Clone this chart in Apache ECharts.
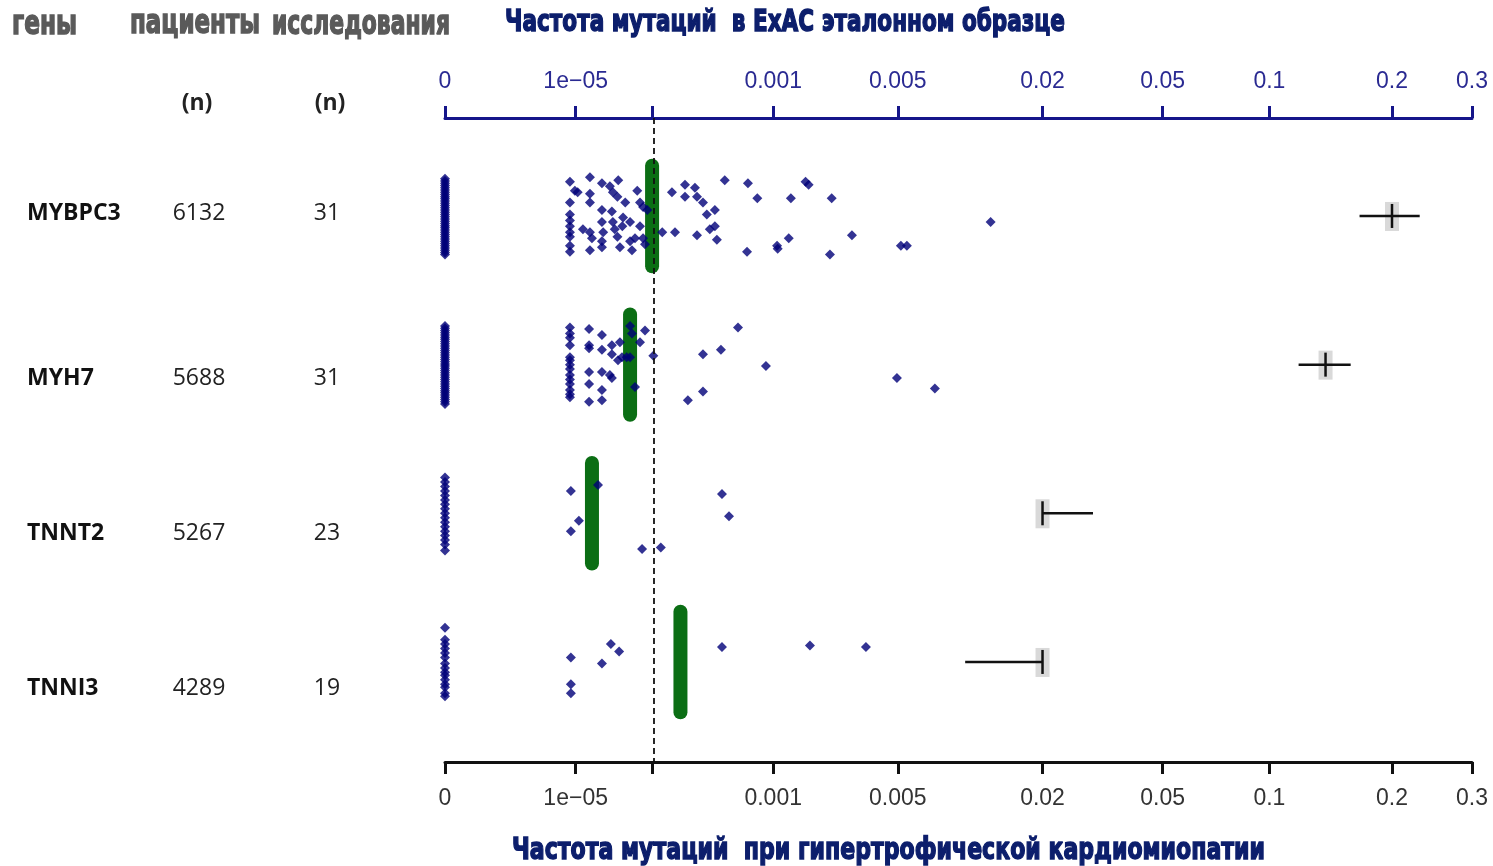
<!DOCTYPE html>
<html><head><meta charset="utf-8">
<script src="https://cdn.jsdelivr.net/npm/echarts@6/dist/echarts.min.js"></script>
<style>html,body{margin:0;padding:0;background:#fff}#c{width:1493px;height:866px}</style>
</head><body><div id="c"></div>
<script>
// ---------- data ----------
const genes = ['MYBPC3', 'MYH7', 'TNNT2', 'TNNI3'];
const patients = [6132, 5688, 5267, 4289];
const studies = [31, 31, 23, 19];
const tickValues = [0, 1e-5, 1e-4, 0.001, 0.005, 0.02, 0.05, 0.1, 0.2, 0.3];
const tickLabels = ['0', '1e\u221205', '', '0.001', '0.005', '0.02', '0.05', '0.1', '0.2', '0.3'];
const thresholdFreq = 1e-4;

// ExAC variant frequencies: [frequency, vertical jitter within row]
const exacMYBPC3 = [
  [0,-0.25],[0,-0.235],[0,-0.22],[0,-0.205],[0,-0.19],[0,-0.175],[0,-0.16],[0,-0.145],[0,-0.13],[0,-0.115],[0,-0.10],[0,-0.085],
  [0,-0.07],[0,-0.055],[0,-0.04],[0,-0.025],[0,-0.01],[0,0.005],[0,0.02],[0,0.035],[0,0.05],[0,0.065],[0,0.08],[0,0.095],
  [0,0.11],[0,0.125],[0,0.14],[0,0.155],[0,0.17],[0,0.185],[0,0.20],[0,0.215],[0,0.23],[0,0.245],[0,0.26],
  [8.0e-6,-0.23],[8.0e-6,-0.09],[8.0e-6,-0.01],[8.0e-6,0.03],[8.0e-6,0.07],[8.0e-6,0.11],[8.0e-6,0.14],[8.0e-6,0.20],[8.0e-6,0.24],
  [9.7e-6,-0.17],[1.08e-5,-0.16],
  [1.68e-5,-0.26],[1.68e-5,-0.15],[1.68e-5,-0.09],[1.31e-5,0.09],[1.68e-5,0.11],[1.80e-5,0.15],[1.68e-5,0.23],
  [2.5e-5,-0.22],[2.5e-5,-0.04],[2.5e-5,0.04],[2.6e-5,0.11],[2.5e-5,0.17],[2.5e-5,0.21],
  [3.2e-5,-0.20],[3.4e-5,-0.03],[3.5e-5,-0.16],[3.5e-5,0.04],[3.7e-5,0.09],[4.0e-5,0.14],[4.3e-5,0.21],
  [4.1e-5,-0.24],[4.0e-5,-0.13],[5.0e-5,-0.09],[4.6e-5,0.07],[4.7e-5,0.01],[5.7e-5,0.04],[5.7e-5,0.17],[6.0e-5,0.23],[6.5e-5,0.15],
  [6.9e-5,-0.17],[7.4e-5,-0.09],[8.0e-5,-0.06],[7.4e-5,0.07],[8.0e-5,0.15],[8.4e-5,0.19],[8.9e-5,-0.04],
  [1.27e-4,0.11],[1.58e-4,-0.16],[1.69e-4,0.11],[2.09e-4,-0.21],[2.09e-4,-0.13],[2.56e-4,-0.19],[2.67e-4,-0.13],[2.67e-4,0.13],
  [3.0e-4,-0.09],[3.23e-4,-0.01],[3.76e-4,-0.04],[3.42e-4,0.09],[3.76e-4,0.07],[3.9e-4,0.16],[4.5e-4,-0.24],
  [6.7e-4,-0.22],[7.8e-4,-0.12],[6.6e-4,0.24],[1.06e-3,0.20],[1.07e-3,0.22],[1.26e-3,0.15],[1.30e-3,-0.12],
  [1.6e-3,-0.23],[1.67e-3,-0.21],[2.27e-3,-0.12],[2.22e-3,0.26],[2.93e-3,0.13],[5.17e-3,0.20],[5.52e-3,0.20],[1.27e-2,0.04]
];
const exacMYH7 = [
  [0,-0.26],[0,-0.245],[0,-0.23],[0,-0.215],[0,-0.20],[0,-0.185],[0,-0.17],[0,-0.155],[0,-0.14],[0,-0.125],[0,-0.11],[0,-0.095],
  [0,-0.08],[0,-0.065],[0,-0.05],[0,-0.035],[0,-0.02],[0,-0.005],[0,0.01],[0,0.025],[0,0.04],[0,0.055],[0,0.07],[0,0.085],
  [0,0.10],[0,0.115],[0,0.13],[0,0.145],[0,0.16],[0,0.175],[0,0.19],[0,0.205],[0,0.22],[0,0.235],[0,0.25],[0,0.265],
  [8.0e-6,-0.25],[8.0e-6,-0.21],[8.0e-6,-0.18],[8.0e-6,-0.13],[8.0e-6,-0.05],[8.0e-6,-0.03],[8.0e-6,0],[8.0e-6,0.03],[8.0e-6,0.07],[8.0e-6,0.10],[8.0e-6,0.13],[8.0e-6,0.17],[8.0e-6,0.20],[8.0e-6,0.22],
  [1.63e-5,-0.24],[1.63e-5,-0.13],[1.63e-5,-0.11],[1.63e-5,0.05],[1.63e-5,0.13],[1.63e-5,0.25],
  [2.5e-5,-0.20],[2.5e-5,-0.10],[2.5e-5,0.05],[2.5e-5,0.17],[2.5e-5,0.24],
  [3.4e-5,-0.13],[4.3e-5,-0.15],[3.4e-5,-0.07],[4.56e-5,-0.05],[4.07e-5,-0.03],[5.2e-5,-0.05],[3.2e-5,0.07],[3.4e-5,0.09],
  [5.7e-5,-0.26],[6.0e-5,-0.21],[5.7e-5,-0.05],[6.5e-5,0.15],
  [7.4e-5,-0.15],[8.4e-5,-0.23],[1.03e-4,-0.06],
  [2.22e-4,0.24],[3.0e-4,-0.07],[3.0e-4,0.18],[4.2e-4,-0.10],[5.67e-4,-0.25],[8.94e-4,0.01],[4.95e-3,0.09],[7.41e-3,0.16]
];
const exacTNNT2 = [
  [0,-0.24],[0,-0.21],[0,-0.18],[0,-0.15],[0,-0.12],[0,-0.09],[0,-0.06],[0,-0.03],[0,0],[0,0.03],[0,0.06],[0,0.09],[0,0.12],[0,0.15],[0,0.18],[0,0.21],[0,0.25],
  [8.3e-6,-0.15],[2.2e-5,-0.19],[1.13e-5,0.05],[8.3e-6,0.12],[7.8e-5,0.24],[1.23e-4,0.23],[4.28e-4,-0.13],[4.85e-4,0.02]
];
const exacTNNI3 = [
  [0,-0.23],[0,-0.15],[0,-0.12],[0,-0.09],[0,-0.06],[0,-0.03],[0,0.01],[0,0.04],[0,0.07],[0,0.09],[0,0.12],[0,0.15],[0,0.17],[0,0.21],[0,0.23],
  [8.3e-6,-0.03],[8.3e-6,0.15],[8.3e-6,0.21],[2.5e-5,0.01],[3.3e-5,-0.12],[4.2e-5,-0.07],[4.28e-4,-0.10],[1.70e-3,-0.11],[3.47e-3,-0.10]
];
const exacByGene = [exacMYBPC3, exacMYH7, exacTNNT2, exacTNNI3];
// cumulative ExAC frequency (green bars)
const exacCumulative = [1.0e-4, 5.7e-5, 1.8e-5, 1.9e-4];
// HCM frequency estimate and interval
const hcmEstimate = [0.2, 0.139, 0.02, 0.02];
const hcmLow = [0.168, 0.119, 0.02, 0.01];
const hcmHigh = [0.231, 0.160, 0.03, 0.02];

// ---------- layout ----------
const f = v => Math.pow(v, 0.2);          // fifth-root axis transform
const labelRowPos = [-0.017, 1.095, 2.135, 3.175];
const NAVY = '#16168a';
const TITLE_NAVY = '#0c1e6c';

function fitScale(text, font, target) {
  const ctx = document.createElement('canvas').getContext('2d');
  ctx.font = font;
  return target / ctx.measureText(text).width;
}
function condText(text, x, y, target, size, color) {
  const font = 'bold ' + size + 'px "DejaVu Sans"';
  return {
    type: 'text', x: x, y: y, scaleX: fitScale(text, font, target), silent: true,
    style: { text: text, font: font, fill: color, stroke: color, lineWidth: 1.6, textVerticalAlign: 'middle', textAlign: 'left' }
  };
}
function tickFmt(val) {
  let best = 0, bd = Infinity;
  tickValues.forEach((t, i) => { const d = Math.abs(f(t) - val); if (d < bd) { bd = d; best = i; } });
  return tickLabels[best];
}

const chart = echarts.init(document.getElementById('c'), null, { renderer: 'canvas' });
const tickT = tickValues.map(f);
const xAxisCommon = {
  type: 'value', min: 0, max: f(0.3), splitLine: { show: false },
  axisTick: { show: true, length: 12, customValues: tickT },
  axisLabel: { customValues: tickT, formatter: tickFmt, fontFamily: 'Liberation Sans', fontSize: 23, showMinLabel: true, showMaxLabel: true }
};

const option = {
  backgroundColor: '#fff',
  animation: false,
  grid: { left: 445, right: 21, top: 118, bottom: 104 },
  xAxis: [
    Object.assign({}, xAxisCommon, {
      position: 'bottom',
      axisLine: { onZero: false, lineStyle: { color: '#111', width: 3 } },
      axisTick: Object.assign({}, xAxisCommon.axisTick, { lineStyle: { color: '#111', width: 3 } }),
      axisLabel: Object.assign({}, xAxisCommon.axisLabel, { color: '#333', margin: 25 })
    }),
    Object.assign({}, xAxisCommon, {
      position: 'top',
      axisLine: { onZero: false, lineStyle: { color: NAVY, width: 3 } },
      axisTick: Object.assign({}, xAxisCommon.axisTick, { lineStyle: { color: NAVY, width: 3 } }),
      axisLabel: Object.assign({}, xAxisCommon.axisLabel, { color: '#2a2a92', margin: 25 })
    })
  ],
  yAxis: {
    type: 'value', inverse: true, min: -0.659, max: 3.673,
    axisLine: { show: false }, axisTick: { show: false }, splitLine: { show: false },
    axisLabel: {
      customValues: labelRowPos, align: 'left', margin: 418,
      formatter: function (val) {
        let i = 0, bd = Infinity;
        labelRowPos.forEach((p, k) => { const d = Math.abs(p - val); if (d < bd) { bd = d; i = k; } });
        return '{g|' + genes[i] + '}{p|' + patients[i] + '}{s|' + studies[i] + '}';
      },
      rich: {
        g: { fontFamily: 'Open Sans', fontWeight: 'bold', fontSize: 23, color: '#111', width: 140, align: 'left' },
        p: { fontFamily: 'Open Sans', fontSize: 23, color: '#222', width: 64, align: 'center' },
        s: { fontFamily: 'Open Sans', fontSize: 23, color: '#222', width: 192, align: 'center' }
      }
    }
  },
  graphic: [
    condText('гены', 12, 25, 65, 34, '#5a5a5a'),
    condText('пациенты', 130, 24, 130, 34, '#5a5a5a'),
    condText('исследования', 272, 25, 178, 34, '#5a5a5a'),
    condText('Частота мутаций  в ExAC эталонном образце', 505, 23, 560, 31, TITLE_NAVY),
    condText('Частота мутаций  при гипертрофической кардиомиопатии', 512, 851, 753, 31, TITLE_NAVY),
    { type: 'text', x: 197, y: 103, silent: true, style: { text: '(n)', font: 'bold 23px "Open Sans"', fill: '#222', textAlign: 'center', textVerticalAlign: 'middle' } },
    { type: 'text', x: 330, y: 103, silent: true, style: { text: '(n)', font: 'bold 23px "Open Sans"', fill: '#222', textAlign: 'center', textVerticalAlign: 'middle' } }
  ],
  series: [
    {
      type: 'scatter', data: [], z: 1, silent: true,
      markLine: {
        silent: true, symbol: ['none', 'none'], label: { show: false },
        lineStyle: { color: '#111', type: [6, 4], width: 1.8 },
        data: [{ xAxis: f(thresholdFreq) }]
      }
    },
    {
      type: 'custom', z: 2, silent: true,
      data: exacCumulative.map((v, i) => [f(v), i]),
      renderItem: function (params, api) {
        const x = api.value(0), r = api.value(1);
        const a = api.coord([x, r - 0.385]), b = api.coord([x, r + 0.385]);
        return { type: 'rect', shape: { x: a[0] - 7, y: a[1], width: 14, height: b[1] - a[1], r: 7 }, style: { fill: '#0b6e14' } };
      }
    },
    {
      type: 'scatter', z: 3, silent: true, symbol: 'diamond', symbolSize: 10,
      itemStyle: { color: '#000078' },
      data: exacByGene.flatMap((arr, i) => arr.map(d => [f(d[0]), i + d[1]]))
    },
    {
      type: 'custom', z: 4, silent: true,
      data: hcmEstimate.map((v, i) => [f(v), f(hcmLow[i]), f(hcmHigh[i]), i]),
      renderItem: function (params, api) {
        const r = api.value(3);
        const c = api.coord([api.value(0), r]);
        const l = api.coord([api.value(1), r]);
        const h = api.coord([api.value(2), r]);
        return {
          type: 'group', children: [
            { type: 'rect', shape: { x: c[0] - 7, y: c[1] - 14, width: 14, height: 29 }, style: { fill: '#d9d9d9' } },
            { type: 'line', shape: { x1: l[0], y1: c[1], x2: h[0], y2: c[1] }, style: { stroke: '#111', lineWidth: 2.5 } },
            { type: 'line', shape: { x1: c[0], y1: c[1] - 12, x2: c[0], y2: c[1] + 12 }, style: { stroke: '#111', lineWidth: 2.5 } }
          ]
        };
      }
    }
  ]
};
chart.setOption(option);
</script>
</body></html>
